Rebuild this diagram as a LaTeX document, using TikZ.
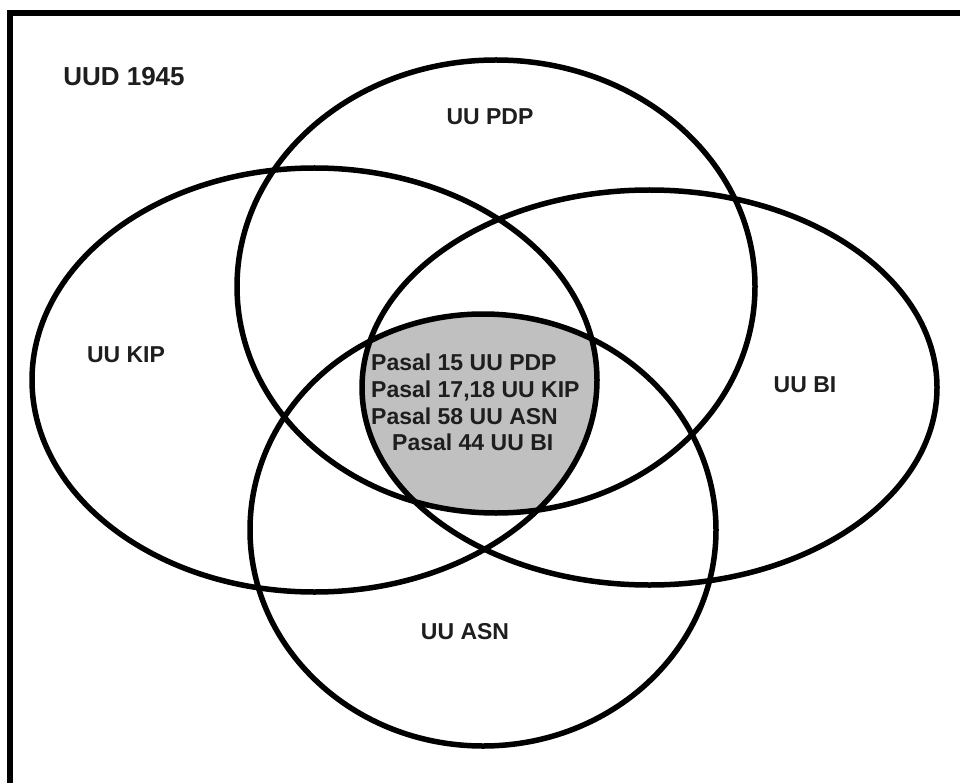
\documentclass[tikz,border=0pt]{standalone}
\usepackage{fontspec}
\setmainfont{Liberation Sans}
\usetikzlibrary{positioning}
\definecolor{coreGrey}{RGB}{192,192,192}
\definecolor{labelInk}{RGB}{30,30,30}
\tikzset{
  uuset/.style={line width=5.5pt},
  uulabel/.style={font=\fontsize{23}{26.7}\selectfont\bfseries, text=labelInk, inner sep=0pt},
}

\begin{document}
\begin{tikzpicture}[x=1pt, y=-1pt]
    \useasboundingbox (0,0) rectangle (960,783);
    \fill[white] (0,0) rectangle (960,783);
    \draw[line width=6pt] (10.3,783) -- (10.3,12.7) -- (960,12.7);

    \coordinate (pdp) at (496,286.5);
    \coordinate (kip) at (314.5,380);
    \coordinate (bi)  at (649.5,387.5);
    \coordinate (asn) at (483,530);

    % common part of the four laws
    \begin{scope}
      \clip (pdp) ellipse [x radius=259pt, y radius=226.5pt];
      \clip (kip) ellipse [x radius=282.5pt, y radius=212pt];
      \clip (bi) ellipse [x radius=287.5pt, y radius=197.5pt];
      \fill[coreGrey] (asn) ellipse [x radius=233pt, y radius=216pt];
    \end{scope}

    \draw[uuset] (pdp) ellipse [x radius=259pt, y radius=226.5pt];
    \draw[uuset] (kip) ellipse [x radius=282.5pt, y radius=212pt];
    \draw[uuset] (bi) ellipse [x radius=287.5pt, y radius=197.5pt];
    \draw[uuset] (asn) ellipse [x radius=233pt, y radius=216pt];

    \node[uulabel, font=\fontsize{26}{30}\selectfont\bfseries] (uud) at (124,77) {UUD 1945};
    \node[uulabel] (pdplabel) at (490,117) {UU PDP};
    \node[uulabel] (kiplabel) at (126,355) {UU KIP};
    \node[uulabel] (bilabel) at (805,385) {UU BI};
    \node[uulabel] (asnlabel) at (465,632) {UU ASN};
    \node[uulabel, align=left, anchor=west] (pasal) at (371,402.5)
      {Pasal 15 UU PDP\\Pasal 17,18 UU KIP\\Pasal 58 UU ASN\\\hspace*{21pt}Pasal 44 UU BI};
\end{tikzpicture}
\end{document}
